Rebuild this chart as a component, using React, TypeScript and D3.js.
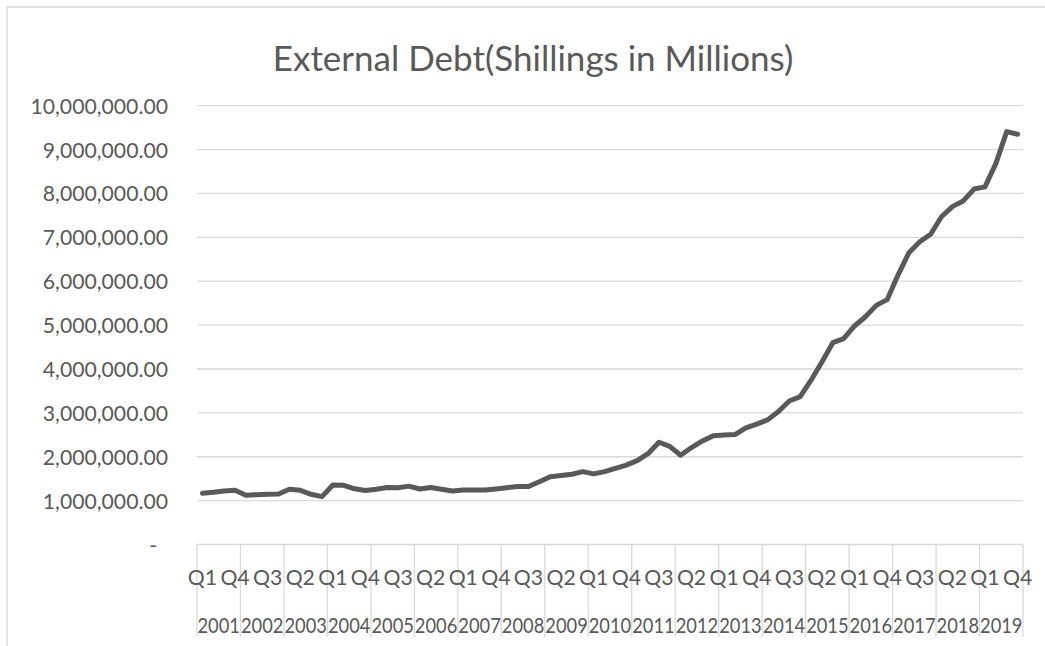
import React from "react";
import * as d3 from "d3";

const years = [2001, 2002, 2003, 2004, 2005, 2006, 2007, 2008, 2009, 2010, 2011, 2012, 2013, 2014, 2015, 2016, 2017, 2018, 2019];
const quarters = ["Q1", "Q2", "Q3", "Q4"];

// External debt, Shillings in Millions, quarterly 2001 Q1 .. 2019 Q4
const debt = [
  1167000, 1190000, 1220000, 1235000,
  1120000, 1136000, 1144000, 1150000,
  1260000, 1235000, 1144000, 1090000,
  1356000, 1350000, 1270000, 1230000,
  1260000, 1300000, 1295000, 1330000,
  1265000, 1300000, 1260000, 1220000,
  1240000, 1240000, 1240000, 1265000,
  1295000, 1320000, 1320000, 1430000,
  1545000, 1570000, 1600000, 1660000,
  1610000, 1660000, 1735000, 1810000,
  1910000, 2070000, 2330000, 2235000,
  2035000, 2210000, 2360000, 2480000,
  2495000, 2505000, 2660000, 2745000,
  2840000, 3030000, 3270000, 3370000,
  3745000, 4160000, 4600000, 4690000,
  4980000, 5190000, 5450000, 5580000,
  6140000, 6650000, 6900000, 7070000,
  7470000, 7700000, 7830000, 8100000,
  8150000, 8680000, 9410000, 9350000,
];

const yTicks = [0, 1000000, 2000000, 3000000, 4000000, 5000000, 6000000, 7000000, 8000000, 9000000, 10000000];
const title = "External Debt(Shillings in Millions)";

const W = 1045;
const H = 646;
const plotLeft = 197;
const plotRight = 1023;
const plotTop = 105.7;
const plotBottom = 544.5;
const textColor = "#595959";
const gridColor = "#d9d9d9";
const font = "Lato, 'Open Sans', sans-serif";

export default function App() {
  const cats = years.flatMap((y) => quarters.map((q) => `${q} ${y}`));
  const x = d3.scaleBand<string>().domain(cats).range([plotLeft, plotRight]).paddingInner(0).paddingOuter(0);
  const y = d3.scaleLinear().domain([0, 10000000]).range([plotBottom, plotTop]);
  const bw = x.bandwidth();
  const cx = (i: number) => (x(cats[i]) as number) + bw / 2;
  const line = d3
    .line<number>()
    .x((_, i) => cx(i))
    .y((d) => y(d));
  const fmt = d3.format(",.2f");
  const yearW = bw * quarters.length;

  return (
    <svg width={W} height={H} style={{ position: "absolute", left: 0, top: 0, background: "#fff" }} fontFamily={font}>
      <rect x={0} y={0} width={W} height={H} fill="#fff" />
      {/* chart area border */}
      <path d={`M7,${H + 5} V7 H${W + 5}`} fill="none" stroke={gridColor} strokeWidth={1.3} />
      <text x={533} y={57} textAnchor="middle" dominantBaseline="central" fontSize={35} fill={textColor}>
        {title}
      </text>
      {/* gridlines */}
      {yTicks.slice(1).map((t) => (
        <line key={t} x1={plotLeft} x2={plotRight} y1={y(t)} y2={y(t)} stroke={gridColor} strokeWidth={1.3} />
      ))}
      {/* y labels */}
      {yTicks.map((t) => (
        <text
          key={"l" + t}
          x={t === 0 ? 157 : 168}
          y={y(t)}
          textAnchor="end"
          dominantBaseline="central"
          fontSize={21.2}
          fill={textColor}
        >
          {t === 0 ? "-" : fmt(t)}
        </text>
      ))}
      {/* x axis line */}
      <line x1={plotLeft} x2={plotRight} y1={plotBottom} y2={plotBottom} stroke={gridColor} strokeWidth={1.3} />
      {/* year group separators */}
      {d3.range(years.length + 1).map((k) => (
        <line
          key={"s" + k}
          x1={plotLeft + k * yearW}
          x2={plotLeft + k * yearW}
          y1={plotBottom}
          y2={637}
          stroke={gridColor}
          strokeWidth={1.3}
        />
      ))}
      {/* quarter labels */}
      {cats.map((c, i) =>
        i % 3 === 0 ? (
          <text key={"q" + i} x={cx(i)} y={577} textAnchor="middle" dominantBaseline="central" fontSize={21.2} fill={textColor}>
            {quarters[i % 4]}
          </text>
        ) : null
      )}
      {/* year labels */}
      {years.map((yr, k) => (
        <text
          key={"y" + yr}
          x={plotLeft + (k + 0.5) * yearW}
          y={625}
          textAnchor="middle"
          dominantBaseline="central"
          fontSize={21.2}
          textLength={yearW - 1}
          lengthAdjust="spacingAndGlyphs"
          fill={textColor}
        >
          {yr}
        </text>
      ))}
      {/* data line */}
      <path d={line(debt) ?? ""} fill="none" stroke="#595959" strokeWidth={5} strokeLinejoin="round" strokeLinecap="round" />
    </svg>
  );
}
